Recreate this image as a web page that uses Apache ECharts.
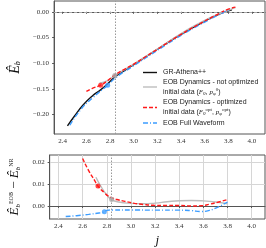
<!DOCTYPE html>
<html><head><meta charset="utf-8">
<script src="https://cdn.jsdelivr.net/npm/echarts@6/dist/echarts.min.js"></script>
<style>html,body{margin:0;padding:0;background:#fff}#c{width:266px;height:248px}</style>
</head><body><div id="c"></div>
<script>
// ---- data ----
const jNR   = [2.44,2.50,2.57,2.65,2.72,2.78,2.84,2.93,3.00,3.10,3.20,3.30,3.40,3.50,3.60,3.70,3.80,3.83];
const ebNR  = [-0.222,-0.203,-0.182,-0.164,-0.152,-0.140,-0.127,-0.113,-0.103,-0.088,-0.073,-0.058,-0.044,-0.031,-0.018,-0.007,0.002,0.004];

const jNotOpt  = [2.71,2.78,2.84,3.00,3.20,3.40,3.60,3.80,3.86];
const ebNotOpt = [-0.139,-0.134,-0.124,-0.102,-0.0725,-0.0425,-0.0165,0.003,0.008];

const jOpt  = [2.60,2.65,2.72,2.78,2.84,2.93,3.00,3.10,3.20,3.40,3.60,3.70,3.80,3.86];
const ebOpt = [-0.155,-0.149,-0.143,-0.134,-0.123,-0.111,-0.102,-0.0875,-0.073,-0.044,-0.018,-0.006,0.005,0.009];

const jFull  = [2.46,2.55,2.65,2.78,2.85,3.00,3.20,3.40,3.60,3.70,3.80];
const ebFull = [-0.221,-0.191,-0.168,-0.143,-0.128,-0.105,-0.075,-0.046,-0.020,-0.008,0.003];

// differences (bottom panel)
const jDiffNotOpt = [2.71,2.75,2.80,2.84,2.90,3.00,3.10,3.20,3.30,3.40,3.50,3.60,3.70,3.80];
const dNotOpt     = [0.013,0.009,0.005,0.0029,0.0018,0.0012,0.0010,0.0013,0.0019,0.0024,0.0025,0.0023,0.0018,0.0010];

const jDiffOpt = [2.60,2.65,2.70,2.727,2.78,2.81,2.85,2.90,2.95,3.03,3.10,3.19,3.30,3.40,3.50,3.58,3.65,3.72,3.80];
const dOpt     = [0.0215,0.016,0.0115,0.009,0.006,0.0046,0.0035,0.0027,0.0021,0.0012,0.0007,0.0003,0.0002,0.0002,0.0000,0.0001,0.0008,0.0017,0.0029];

const jDiffFull = [2.46,2.55,2.65,2.72,2.76,2.78,2.80,2.85,3.00,3.20,3.40,3.50,3.58,3.65,3.72,3.80];
const dFull     = [-0.0048,-0.0044,-0.0038,-0.0033,-0.0030,-0.0026,-0.0020,-0.0018,-0.0018,-0.0019,-0.0019,-0.0021,-0.0025,-0.0020,-0.0005,0.0018];

// special points (markers)
const markOptTop   = [2.72, -0.143];
const markFullTop  = [2.78, -0.143];
const markNotOptTop= [2.84, -0.124];
const markOptBot   = [2.727, 0.009];
const markFullBot  = [2.78, -0.0026];
const markNotOptBot= [2.84, 0.0029];

const refJ = 2.84;
const xTicks = [2.4,2.6,2.8,3.0,3.2,3.4,3.6,3.8,4.0];
const yTicksTop = [-0.20,-0.15,-0.10,-0.05,0.00];
const yTicksBot = [0.00,0.01,0.02];

// ---- chart ----
const zip = (a,b)=>a.map((v,i)=>[v,b[i]]);
const C_BLACK='#111', C_GRAY='#bdbdbd', C_RED='#ff1a1a', C_BLUE='#3d9dff';
const serif = 'Liberation Serif';
const fmt = v => (v<0?'\u2212':'') + Math.abs(v).toFixed(2);

const xAxisBase = (gi)=>({
  type:'value', gridIndex:gi, min:2.327, max:4.11,
  axisLine:{show:true,lineStyle:{color:'#555',width:1}},
  axisTick:{show:true,customValues:xTicks,length:2,lineStyle:{color:'#555'}},
  axisLabel:{customValues:xTicks,formatter:v=>v.toFixed(1),fontFamily:serif,fontSize:7,color:'#333',margin:4},
  splitLine:{show:gi===1,lineStyle:{color:'#d6d6d6',width:1}}
});

const option = {
  animation:false,
  grid:[
    {left:43,right:1,top:1,height:133,show:true,borderColor:'#555',borderWidth:1},
    {left:43,right:1,top:155,height:66,show:true,borderColor:'#555',borderWidth:1}
  ],
  xAxis:[
    xAxisBase(0),
    Object.assign(xAxisBase(1),{name:'j',nameLocation:'middle',nameGap:15,
      nameTextStyle:{fontFamily:serif,fontStyle:'italic',fontSize:13,color:'#111'}})
  ],
  yAxis:[
    {type:'value',gridIndex:0,min:-0.238,max:0.021,
     axisLine:{show:true,lineStyle:{color:'#555'}},
     axisTick:{show:true,customValues:yTicksTop,length:2,lineStyle:{color:'#555'}},
     axisLabel:{customValues:yTicksTop,formatter:fmt,fontFamily:serif,fontSize:7,color:'#333',margin:5},
     splitLine:{show:false},
     name:'{e|Ê}{s|b}',nameLocation:'middle',nameRotate:90,nameGap:28,
     nameTextStyle:{rich:{e:{fontFamily:serif,fontStyle:'italic',fontSize:14,color:'#111'},
                          s:{fontFamily:serif,fontStyle:'italic',fontSize:8,color:'#111',verticalAlign:'bottom',padding:[6,0,0,0]}}}},
    {type:'value',gridIndex:1,min:-0.0059,max:0.0231,
     axisLine:{show:true,lineStyle:{color:'#555'}},
     axisTick:{show:true,customValues:yTicksBot,length:2,lineStyle:{color:'#555'}},
     axisLabel:{customValues:yTicksBot,formatter:fmt,fontFamily:serif,fontSize:7,color:'#333',margin:5},
     splitLine:{show:true,lineStyle:{color:'#d6d6d6'}},
     name:'{e|Ê}{s|b}{p|EOB}{m| − }{e|Ê}{s|b}{p|NR}',nameLocation:'middle',nameRotate:90,nameGap:27,
     nameTextStyle:{rich:{e:{fontFamily:serif,fontStyle:'italic',fontSize:13,color:'#111'},
                          m:{fontFamily:serif,fontSize:13,color:'#111'},
                          s:{fontFamily:serif,fontStyle:'italic',fontSize:7,color:'#111',padding:[7,0,0,0]},
                          p:{fontFamily:serif,fontSize:6,color:'#111',padding:[0,0,7,0]}}}}
  ],
  series:[
    {type:'line',xAxisIndex:0,yAxisIndex:0,data:zip(jNR,ebNR),showSymbol:false,smooth:true,
     lineStyle:{color:C_BLACK,width:1.4},z:2,
     markLine:{silent:true,symbol:'none',label:{show:false},
       data:[{xAxis:refJ,lineStyle:{color:'#999',type:[1.5,1.5],width:1}},
             {yAxis:0,lineStyle:{color:'#aaa',type:[3,2],width:1}}]}},
    {type:'line',xAxisIndex:0,yAxisIndex:0,data:zip(jNotOpt,ebNotOpt),showSymbol:false,smooth:true,
     lineStyle:{color:C_GRAY,width:1.4},z:3},
    {type:'line',xAxisIndex:0,yAxisIndex:0,data:zip(jOpt,ebOpt),showSymbol:false,smooth:true,
     lineStyle:{color:C_RED,width:1.4,type:[4,2]},z:4},
    {type:'line',xAxisIndex:0,yAxisIndex:0,data:zip(jFull,ebFull),showSymbol:false,smooth:true,
     lineStyle:{color:C_BLUE,width:1.4,type:[5,2,1,2]},z:3},
    {type:'scatter',xAxisIndex:0,yAxisIndex:0,data:[markOptTop],symbolSize:5,itemStyle:{color:C_RED},z:6},
    {type:'scatter',xAxisIndex:0,yAxisIndex:0,data:[markFullTop],symbolSize:5,itemStyle:{color:C_BLUE},z:6},
    {type:'scatter',xAxisIndex:0,yAxisIndex:0,data:[markNotOptTop],symbolSize:5,itemStyle:{color:'#aaa'},z:6},

    {type:'line',xAxisIndex:1,yAxisIndex:1,data:zip(jDiffNotOpt,dNotOpt),showSymbol:false,smooth:true,
     lineStyle:{color:C_GRAY,width:1.4},z:3,
     markLine:{silent:true,symbol:'none',label:{show:false},
       data:[{xAxis:refJ,lineStyle:{color:'#999',type:[1.5,1.5],width:1}}]}},
    {type:'line',xAxisIndex:1,yAxisIndex:1,data:zip(jDiffOpt,dOpt),showSymbol:false,smooth:true,
     lineStyle:{color:C_RED,width:1.4,type:[4,2]},z:4},
    {type:'line',xAxisIndex:1,yAxisIndex:1,data:zip(jDiffFull,dFull),showSymbol:false,smooth:true,
     lineStyle:{color:C_BLUE,width:1.4,type:[5,2,1,2]},z:3},
    {type:'scatter',xAxisIndex:1,yAxisIndex:1,data:[markOptBot],symbolSize:5,itemStyle:{color:C_RED},z:6},
    {type:'scatter',xAxisIndex:1,yAxisIndex:1,data:[markFullBot],symbolSize:5,itemStyle:{color:C_BLUE},z:6},
    {type:'scatter',xAxisIndex:1,yAxisIndex:1,data:[markNotOptBot],symbolSize:5,itemStyle:{color:'#aaa'},z:6}
  ],
  graphic:[
    {type:'line',shape:{x1:143,y1:72.5,x2:157,y2:72.5},style:{stroke:C_BLACK,lineWidth:1.4}},
    {type:'line',shape:{x1:143,y1:87,x2:157,y2:87},style:{stroke:C_GRAY,lineWidth:1.4}},
    {type:'line',shape:{x1:143,y1:107.5,x2:157,y2:107.5},style:{stroke:C_RED,lineWidth:1.4,lineDash:[4,2]}},
    {type:'line',shape:{x1:143,y1:123,x2:157,y2:123},style:{stroke:C_BLUE,lineWidth:1.4,lineDash:[5,2,1,2]}},
    {type:'text',x:163,y:72.5,style:{text:'GR-Athena++',font:'7px "Liberation Sans"',fill:'#222',verticalAlign:'middle'}},
    {type:'text',x:163,y:82.5,style:{text:'EOB Dynamics - not optimized',font:'7px "Liberation Sans"',fill:'#222',verticalAlign:'middle'}},
    {type:'text',x:163,y:92,style:{text:'{t|initial data (}{i|F}{s|0}{t|, }{i|p}{s|φ}{p|0}{t|)}',verticalAlign:'middle',
      rich:{t:{font:'7px "Liberation Sans"',fill:'#222'},i:{font:'italic 7px "Liberation Serif"',fill:'#222'},
            s:{font:'italic 5px "Liberation Serif"',fill:'#222',padding:[4,0,0,0]},p:{font:'5px "Liberation Serif"',fill:'#222',padding:[0,0,4,0]}}}},
    {type:'text',x:163,y:102.5,style:{text:'EOB Dynamics - optimized',font:'7px "Liberation Sans"',fill:'#222',verticalAlign:'middle'}},
    {type:'text',x:163,y:112,style:{text:'{t|initial data (}{i|F}{s|0}{p|opt}{t|, }{i|p}{s|φ}{p|opt}{t|)}',verticalAlign:'middle',
      rich:{t:{font:'7px "Liberation Sans"',fill:'#222'},i:{font:'italic 7px "Liberation Serif"',fill:'#222'},
            s:{font:'italic 5px "Liberation Serif"',fill:'#222',padding:[4,0,0,0]},p:{font:'5px "Liberation Serif"',fill:'#222',padding:[0,0,4,0]}}}},
    {type:'text',x:163,y:123,style:{text:'EOB Full Waveform',font:'7px "Liberation Sans"',fill:'#222',verticalAlign:'middle'}}
  ]
};
const chart = echarts.init(document.getElementById('c'),null,{renderer:'canvas'});
chart.setOption(option);
</script></body></html>
